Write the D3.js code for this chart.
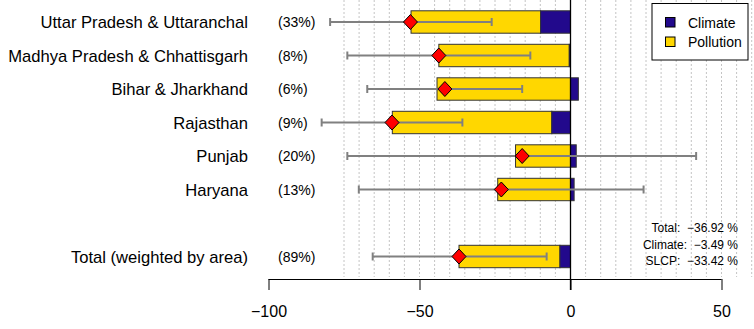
<!DOCTYPE html>
<html>
<head>
<meta charset="utf-8">
<script src="https://cdn.jsdelivr.net/npm/d3@7"></script>
<style>
  html, body { margin: 0; padding: 0; background: #fff; }
  svg { display: block; font-family: "Liberation Sans", Arial, Helvetica, sans-serif; }
</style>
</head>
<body>
<svg id="chart" width="754" height="329"></svg>
<script>
// ---- data ----
const categories = ["Uttar Pradesh & Uttaranchal", "Madhya Pradesh & Chhattisgarh", "Bihar & Jharkhand", "Rajasthan", "Punjab", "Haryana", "Total (weighted by area)"];
const rowSlots = [0, 1, 2, 3, 4, 5, 7];
const shares = ["(33%)", "(8%)", "(6%)", "(9%)", "(20%)", "(13%)", "(89%)"];
const climate = [-9.9, -0.4, 2.6, -6.2, 1.9, 1.2, -3.49];
const pollution = [-42.9, -43.2, -44.2, -52.8, -18.2, -24.1, -33.43];
const totals = [-53.0, -43.6, -41.6, -59.1, -16.0, -22.9, -36.92];
const errLow = [-79.6, -73.9, -67.3, -82.4, -73.9, -70.1, -65.5];
const errHigh = [-26.1, -13.3, -16.0, -35.8, 41.6, 24.2, -7.9];
const xTicks = [-100, -50, 0, 50];
const gridValues = [-75, -70, -65, -60, -55, -50, -45, -40, -35, -30, -25, -20, -15, -10, -5, 5, 10, 15, 20, 25, 30, 35, 40, 45, 50, 55, 60];
const legendItems = ["Climate", "Pollution"];
const statLabels = ["Total:", "Climate:", "SLCP:"];
const statValues = [-36.92, -3.49, -33.42];

const colClimate = "#22098c";
const colPollution = "#ffd700";

const svg = d3.select("#chart");
const x = d3.scaleLinear().domain([-100, 50]).range([268.5, 721.5]);
const y = d3.scalePoint().domain(d3.range(8)).range([22, 256.5]);
const barH = 22.4;
const axisY = 279;

const rows = categories.map((c, i) => ({
  name: c, slot: rowSlots[i], share: shares[i], climate: climate[i], pollution: pollution[i],
  total: totals[i], lo: errLow[i], hi: errHigh[i]
}));

// gridlines
svg.append("g").selectAll("line").data(gridValues).join("line")
  .attr("x1", d => x(d)).attr("x2", d => x(d))
  .attr("y1", 0).attr("y2", 277)
  .attr("stroke", "#c4c4c4").attr("stroke-width", 1)
  .attr("stroke-dasharray", "2,2");

// bars
const bars = svg.append("g");
rows.forEach(r => {
  let cA, cB, pA, pB;
  if (r.climate < 0) { cA = r.climate; cB = 0; pA = r.climate + r.pollution; pB = r.climate; }
  else { cA = 0; cB = r.climate; pA = r.pollution; pB = 0; }
  const cy = y(r.slot);
  bars.append("rect")
    .attr("x", x(pA)).attr("width", x(pB) - x(pA))
    .attr("y", cy - barH / 2).attr("height", barH)
    .attr("fill", colPollution).attr("stroke", "#333").attr("stroke-width", 1);
  bars.append("rect")
    .attr("x", x(cA)).attr("width", x(cB) - x(cA))
    .attr("y", cy - barH / 2).attr("height", barH)
    .attr("fill", colClimate).attr("stroke", "#333").attr("stroke-width", 1);
});

// zero line
svg.append("line")
  .attr("x1", x(0)).attr("x2", x(0)).attr("y1", 0).attr("y2", axisY + 11)
  .attr("stroke", "#000").attr("stroke-width", 1.3);

// error bars
const eb = svg.append("g").attr("stroke", "#808080").attr("stroke-width", 2);
rows.forEach(r => {
  const cy = y(r.slot);
  eb.append("line").attr("x1", x(r.lo)).attr("x2", x(r.hi)).attr("y1", cy).attr("y2", cy);
  eb.append("line").attr("x1", x(r.lo)).attr("x2", x(r.lo)).attr("y1", cy - 4).attr("y2", cy + 4);
  eb.append("line").attr("x1", x(r.hi)).attr("x2", x(r.hi)).attr("y1", cy - 4).attr("y2", cy + 4);
});

// diamonds
svg.append("g").selectAll("path").data(rows).join("path")
  .attr("d", r => {
    const cx = x(r.total), cy = y(r.slot), w = 7, h = 7.5;
    return `M${cx},${cy - h}L${cx + w},${cy}L${cx},${cy + h}L${cx - w},${cy}Z`;
  })
  .attr("fill", "#ff0000").attr("stroke", "#000").attr("stroke-width", 1);

// category labels
svg.append("g").selectAll("text").data(rows).join("text")
  .attr("x", 248).attr("y", r => y(r.slot) + 6)
  .attr("text-anchor", "end").attr("font-size", 16.6).attr("fill", "#000")
  .text(r => r.name);

// share labels
svg.append("g").selectAll("text").data(rows).join("text")
  .attr("x", 278).attr("y", r => y(r.slot) + 5)
  .attr("text-anchor", "start").attr("font-size", 14).attr("fill", "#000")
  .text(r => r.share);

// x axis
const axis = svg.append("g").attr("transform", `translate(0,${axisY})`)
  .call(d3.axisBottom(x).tickValues(xTicks).tickSize(11).tickPadding(16)
    .tickFormat(d => d < 0 ? "\u2212" + Math.abs(d) : String(d)));
axis.select(".domain").attr("d", `M${x(-100)},0.5H${x(50)}`).attr("stroke", "#000");
axis.selectAll(".tick line").attr("stroke", "#000");
axis.selectAll(".tick text").attr("font-size", 16).attr("fill", "#000")
  .attr("font-family", "'Liberation Sans', Arial, sans-serif");

// legend
const lg = svg.append("g");
lg.append("rect").attr("x", 652).attr("y", 3.5).attr("width", 96).attr("height", 56.5)
  .attr("fill", "#fff").attr("stroke", "#000").attr("stroke-width", 1);
legendItems.forEach((name, i) => {
  const yy = 17.5 + i * 19.5;
  lg.append("rect").attr("x", 665.5).attr("y", yy).attr("width", 9.5).attr("height", 9.5)
    .attr("fill", i === 0 ? colClimate : colPollution).attr("stroke", "#000").attr("stroke-width", 1);
  lg.append("text").attr("x", 688).attr("y", yy + 10).attr("font-size", 14).attr("fill", "#000").text(name);
});

// stats text
const st = svg.append("g");
statLabels.forEach((lab, i) => {
  st.append("text").attr("x", 738).attr("y", 232 + i * 16.5)
    .attr("text-anchor", "end").attr("font-size", 12).attr("fill", "#000")
    .style("white-space", "pre")
    .text(lab + "  " + "\u2212" + Math.abs(statValues[i]).toFixed(2) + " %");
});
</script>
</body>
</html>
